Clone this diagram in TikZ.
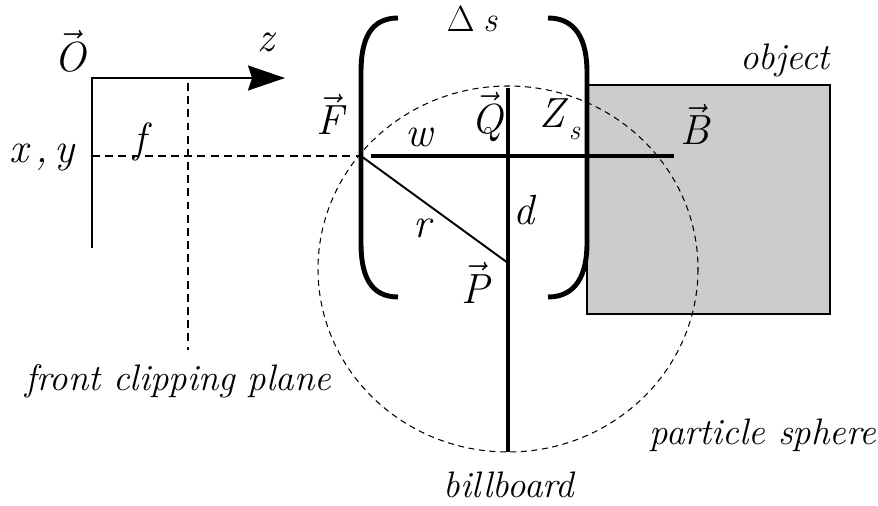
\documentclass[tikz,border=0pt]{standalone}
\usepackage{tikz}
\usetikzlibrary{arrows.meta, positioning}

\newcommand{\vecit}[1]{$\vec{\mbox{\itshape #1}}$}

\begin{document}
\begin{tikzpicture}[x=0.02cm, y=-0.02cm,
  lbl/.style={font=\fontsize{24}{28}\selectfont\itshape, inner sep=0pt, anchor=base},
  small lbl/.style={font=\fontsize{20}{24}\selectfont\itshape, inner sep=0pt, anchor=base},
  word/.style={font=\fontsize{21}{26}\selectfont\itshape, inner sep=0pt, anchor=base},
  axis/.style={line width=1.1pt},
  guide/.style={line width=1.1pt, dash pattern=on 4.5pt off 3pt},
  bold/.style={line width=2.8pt},
  sphere/.style={line width=0.6pt, dash pattern=on 3.4pt off 2.6pt},
  paren/.style={line width=2.8pt},
  objbox/.style={draw, line width=1.1pt, fill=black!20, inner sep=0pt, outer sep=0pt},
]
  \useasboundingbox (0,0) rectangle (878,506);

  % key points
  \coordinate (O) at (92,78);
  \coordinate (ybot) at (92,248);
  \coordinate (ztip) at (285,78);
  \coordinate (ftop) at (188,83);
  \coordinate (fbot) at (188,350);
  \coordinate (xy) at (92,156);
  \coordinate (F) at (361,156);
  \coordinate (wstart) at (371,156);
  \coordinate (B) at (674,156);
  \coordinate (btop) at (508,88);
  \coordinate (bbot) at (508,452);
  \coordinate (P) at (508,263);
  \coordinate (C) at (508,269);

  % object
  \node[objbox, anchor=north west, minimum width=4.86cm, minimum height=4.58cm] (obj) at (587,85) {};

  % camera axes, clipping plane
  \draw[axis, -{Stealth[length=0.74cm, width=0.5cm, inset=0.08cm]}] (ybot) |- (ztip);
  \draw[guide] (ftop) -- (fbot);
  \draw[guide] (xy) -- (F);

  % particle sphere
  \draw[sphere] (C) ellipse [x radius=190, y radius=183];

  % billboard and view ray
  \draw[bold] (wstart) -- (B);
  \draw[bold] (btop) -- (bbot);
  \draw[axis] (F) -- (P);

  % depth range brackets
  \draw[paren] (398,18) .. controls (370,18) and (361,40) .. (361,72) -- (361,243)
    .. controls (361,275) and (370,297) .. (398,297);
  \draw[paren] (548,18) .. controls (576,18) and (587,40) .. (587,72) -- (587,243)
    .. controls (587,275) and (576,297) .. (548,297);

  % labels
  \node[lbl] (Olbl) at (70,72) {\vecit{O}};
  \node[lbl] (zlbl) at (266,52) {z};
  \node[lbl] (xylbl) at (42,163) {x\kern4pt,\kern4pt y};
  \node[lbl] (flbl) at (140,153) {f};
  \node[lbl] (Flbl) at (330,135) {\vecit{F}};
  \node[small lbl] (dslbl) at (472,32) {$\Delta$\kern5pt s};
  \node[lbl] (wlbl) at (419,147) {w};
  \node[lbl] (Qlbl) at (487,134) {\vecit{Q}};
  \node[lbl] (Zslbl) at (560,128) {Z\kern2pt\raisebox{-6.5pt}{\fontsize{16}{16}\selectfont s}};
  \node[lbl] (Blbl) at (695,145) {\vecit{B}};
  \node[lbl] (rlbl) at (422,238) {r};
  \node[lbl] (dlbl) at (524,225) {d};
  \node[lbl] (Plbl) at (475,303) {\vecit{P}};
  \node[word] (objlbl) at (785,70) {object};
  \node[word] (fcp) at (178,390) {front clipping plane};
  \node[word] (psph) at (763,444) {particle sphere};
  \node[word] (bb) at (509,497) {billboard};
\end{tikzpicture}
\end{document}
